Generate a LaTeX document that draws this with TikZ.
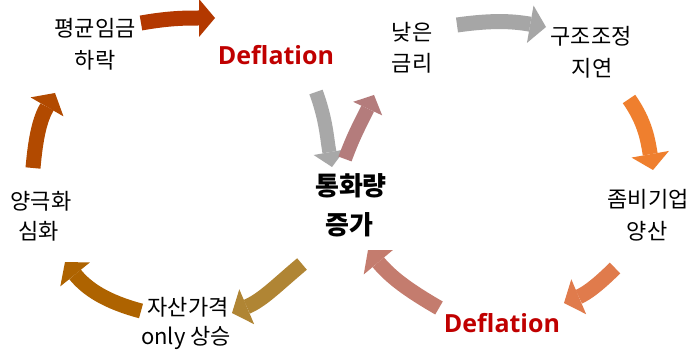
\documentclass[tikz,border=0pt]{standalone}
\usepackage{fontspec}
\setmainfont{Noto Sans CJK KR}
\newfontfamily\deffont{Open Sans}
\usetikzlibrary{arrows.meta}
\definecolor{cA}{HTML}{B33800}
\definecolor{cB}{HTML}{A6A6A6}
\definecolor{cC}{HTML}{EF7F2E}
\definecolor{cD}{HTML}{E07B4C}
\definecolor{cE}{HTML}{C47C6E}
\definecolor{cF}{HTML}{B08534}
\definecolor{cG}{HTML}{AE6300}
\definecolor{cH}{HTML}{B24A00}
\definecolor{cI}{HTML}{A8A8A8}
\definecolor{cJ}{HTML}{B47C7C}
\definecolor{defred}{HTML}{C00000}
\tikzset{
  lbl/.style={inner sep=0pt, font=\fontsize{22}{26}\selectfont},
  bigl/.style={inner sep=0pt, font=\bfseries\fontsize{26}{30}\selectfont},
  defl/.style={inner sep=0pt, text=defred, font=\deffont\bfseries\fontsize{25}{30}\selectfont},
  bigarrow/.style={line width=15pt, -{Triangle[length=16pt,width=38pt,line width=0pt]}},
  smallarrow/.style={line width=14pt, -{Triangle[length=15pt,width=32pt,line width=0pt]}}
}
\begin{document}
\begin{tikzpicture}[x=1pt,y=1pt]
\useasboundingbox (0,0) rectangle (694,354);
\fill[white] (0,0) rectangle (694,354);
% labels
\node[lbl] (wageA) at (95,326) {평균임금};
\node[lbl] (wageB) at (95,294) {하락};
\node[defl] (def1) at (276,299) {Deflation};
\node[lbl] (rateA) at (412,322) {낮은};
\node[lbl] (rateB) at (412,291) {금리};
\node[lbl] (structA) at (591,318) {구조조정};
\node[lbl] (structB) at (592,286) {지연};
\node[bigl] (moneyA) at (351,168) {통화량};
\node[bigl] (moneyB) at (349,129) {증가};
\node[lbl] (zombieA) at (648,155) {좀비기업};
\node[lbl] (zombieB) at (647,123) {양산};
\node[defl] (def2) at (502,31) {Deflation};
\node[lbl] (polarA) at (41,153) {양극화};
\node[lbl] (polarB) at (39,123) {심화};
\node[lbl] (assetA) at (188,47) {자산가격};
\node[lbl] (assetB) at (186,16) {only 상승};
% arrow end points
\coordinate (a1s) at (141,331); \coordinate (a1e) at (215,336);
\coordinate (a2s) at (457,329); \coordinate (a2e) at (546,327);
\coordinate (a3s) at (629,255); \coordinate (a3e) at (653,184);
\coordinate (a4s) at (615,86);  \coordinate (a4e) at (564,51);
\coordinate (a5s) at (439,46);  \coordinate (a5e) at (368,104);
\coordinate (a6s) at (302,90);  \coordinate (a6e) at (232,41);
\coordinate (a7s) at (141,43);  \coordinate (a7e) at (65,92);
\coordinate (a8s) at (33,186);  \coordinate (a8e) at (55,261);
\coordinate (a9s) at (316,262); \coordinate (a9e) at (332,187);
\coordinate (a10s) at (345,195); \coordinate (a10e) at (374,259);
% arrows
\draw[bigarrow, cA] (a1s) to[out=10,in=180] (a1e);
\draw[bigarrow, cB] (a2s) to[out=8,in=170] (a2e);
\draw[bigarrow, cC] (a3s) to[out=-55,in=100] (a3e);
\draw[bigarrow, cD] (a4s) to[out=225,in=23] (a4e);
\draw[bigarrow, cE] (a5s) to[out=150,in=-50] (a5e);
\draw[bigarrow, cF] (a6s) to[out=220,in=23] (a6e);
\draw[bigarrow, cG] (a7s) to[out=165,in=-51] (a7e);
\draw[bigarrow, cH] (a8s) to[out=85,in=-120] (a8e);
\draw[smallarrow, cI] (a9s) to[out=-70,in=100] (a9e);
\draw[smallarrow, cJ] (a10s) to[out=70,in=-115] (a10e);
\end{tikzpicture}
\end{document}
